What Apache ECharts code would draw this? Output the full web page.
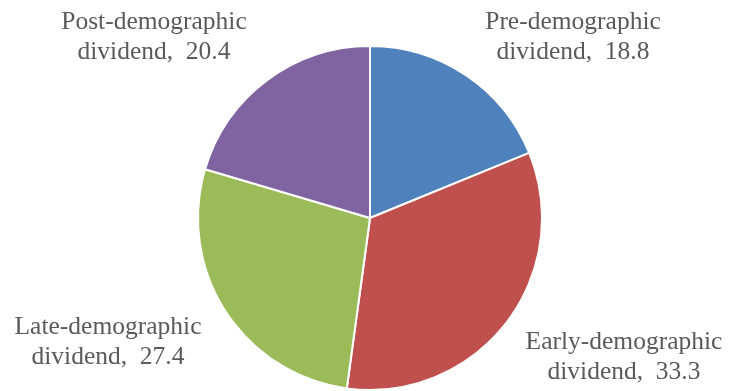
<!DOCTYPE html>
<html>
<head>
<meta charset="utf-8">
<script src="https://cdn.jsdelivr.net/npm/echarts@6/dist/echarts.min.js"></script>
<style>
html,body{margin:0;padding:0;background:#fff;}
#chart{width:729px;height:391px;}
</style>
</head>
<body>
<div id="chart"></div>
<script>
var categories = ['Pre-demographic', 'Early-demographic', 'Late-demographic', 'Post-demographic'];
var values = [18.8, 33.3, 27.4, 20.4];
var colors = ['#4F81BD', '#C0504D', '#9BBB59', '#8064A2'];

// label anchor positions (centre of each label block)
var labelPos = [[573, 37], [624, 357], [108, 342], [154, 37]];

var chart = echarts.init(document.getElementById('chart'));
chart.setOption({
  animation: false,
  backgroundColor: '#fff',
  series: [{
    type: 'pie',
    center: [370, 218],
    radius: 172,
    startAngle: 90,
    clockwise: true,
    data: categories.map(function (c, i) {
      return { name: c, value: values[i], itemStyle: { color: colors[i] } };
    }),
    itemStyle: { borderColor: '#fff', borderWidth: 2 },
    label: {
      show: true,
      position: 'outside',
      formatter: function (p) { return p.name + '\ndividend,  ' + p.value.toFixed(1); },
      fontFamily: "'Liberation Serif', 'Times New Roman', serif",
      fontSize: 25.5,
      lineHeight: 30,
      color: '#5a5a5a',
      align: 'center',
      overflow: 'none',
      width: 400
    },
    labelLine: { show: false },
    labelLayout: function (params) {
      var p = labelPos[params.dataIndex];
      return { x: p[0], y: p[1], align: 'center', verticalAlign: 'middle' };
    },
    emphasis: { disabled: true }
  }]
});
</script>
</body>
</html>
